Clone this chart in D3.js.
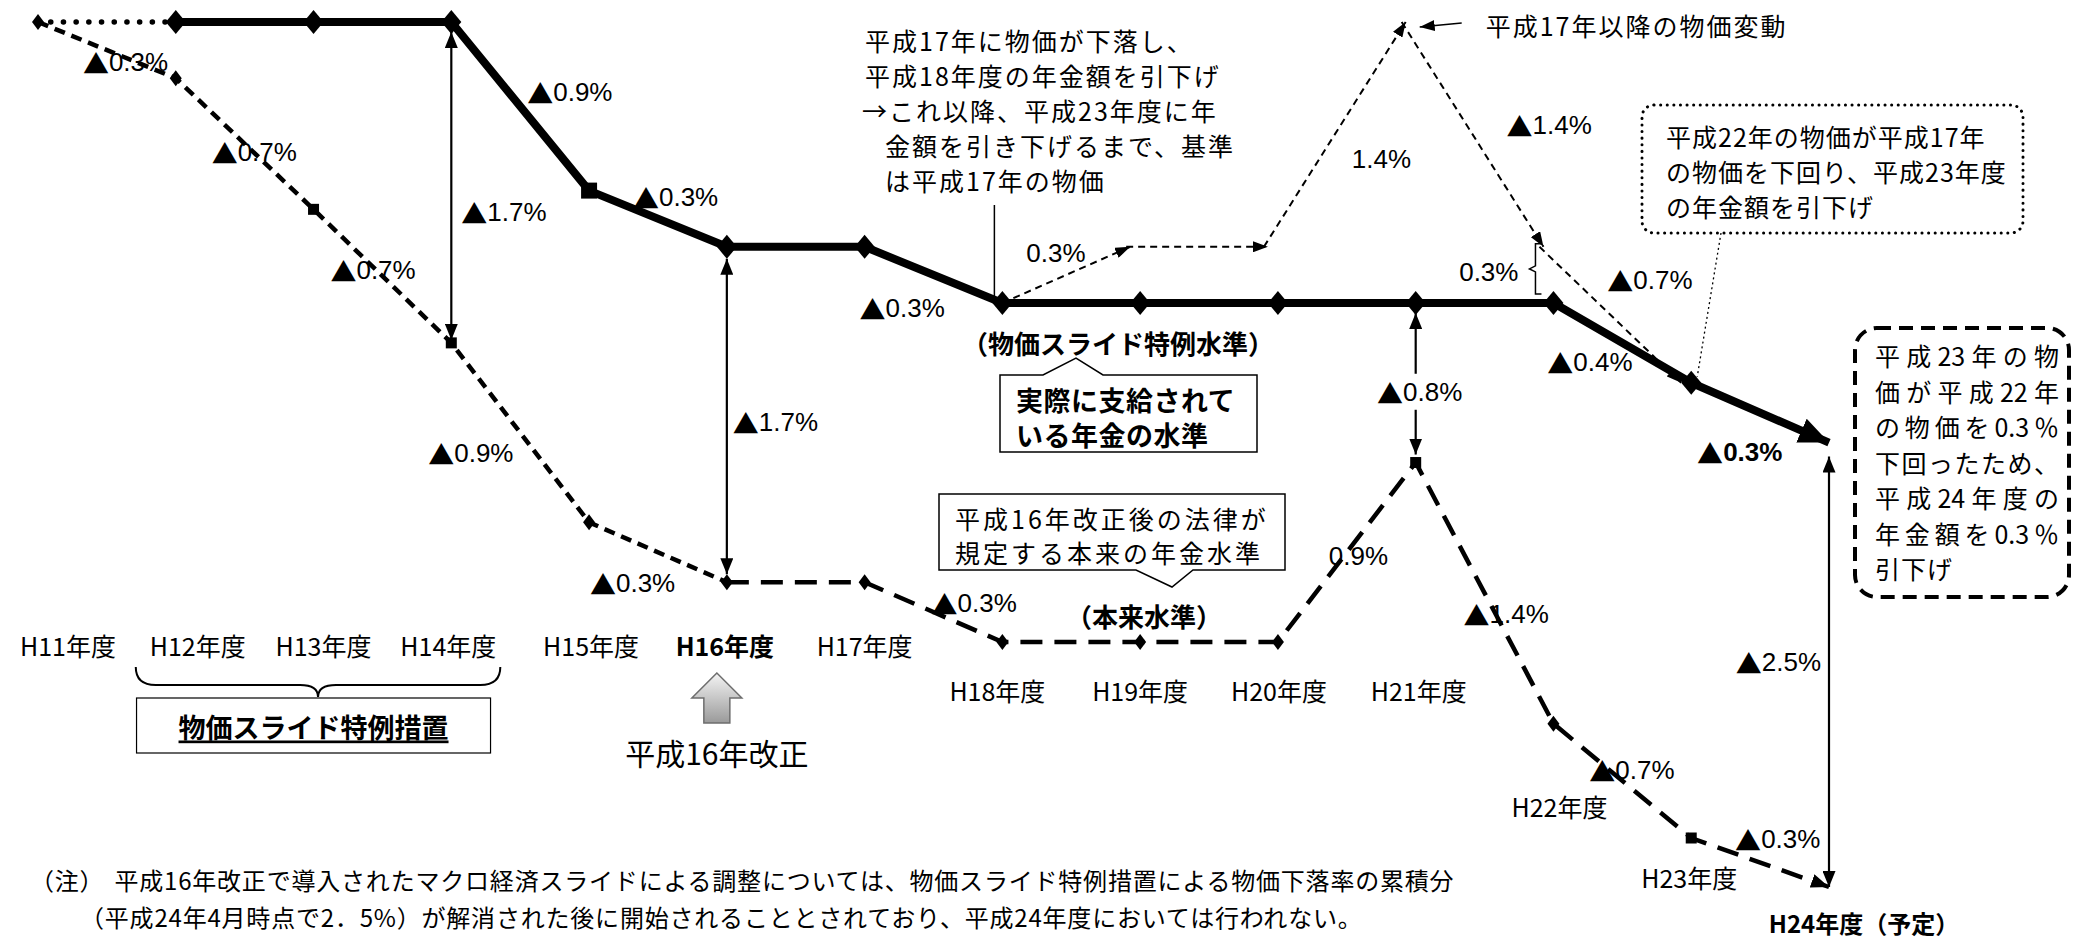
<!DOCTYPE html>
<html>
<head>
<meta charset="utf-8">
<script src="https://cdn.jsdelivr.net/npm/d3@7/dist/d3.min.js"></script>
<style>
  body { margin: 0; background: #fff; }
  svg text { font-family: "Noto Sans CJK JP", sans-serif; fill: #000; }
  svg text.num { font-family: "Liberation Sans", "Noto Sans CJK JP", sans-serif; }
  svg tspan.tri { font-family: "Noto Sans CJK JP", sans-serif; }
</style>
</head>
<body>
<script>
// fiscal years on the horizontal axis
var years = ["H11", "H12", "H13", "H14", "H15", "H16", "H17", "H18", "H19", "H20", "H21", "H22", "H23", "H24"];
var yearLabels = ["H11年度", "H12年度", "H13年度", "H14年度", "H15年度", "H16年度", "H17年度",
    "H18年度", "H19年度", "H20年度", "H21年度", "H22年度", "H23年度", "H24年度（予定）"];

// cumulative change (%) of the pension level, H11 = 0
var specialLevel = [0, 0, 0, 0, -0.9, -1.2, -1.2, -1.5, -1.5, -1.5, -1.5, -1.5, -1.9, -2.2];   // 物価スライド特例水準
var originalLevel = [0, -0.3, -1.0, -1.7, -2.6, -2.9, -2.9, -3.2, -3.2, -3.2, -2.3, -3.7, -4.4, -4.7]; // 本来水準

// price movement after H17 (as drawn) and the yearly changes written on it
var priceYears = ["H18", "H19", "H20", "H21", "H22", "H23"];
var priceLevel = [-1.5, -1.2, -1.2, 0.0, -1.2, -1.9];
var priceChange = [0.3, 0, 1.4, -1.4, -0.7];

// years where the gap between the two levels is shown
var gapYears = ["H14", "H16", "H21", "H24"];

var width = 2073,
    height = 940;

var x = d3.scalePoint().domain(years).range([38, 1829]);
// the original drawing is not quite to scale, so use a piecewise scale
var y = d3.scaleLinear().domain([0, -1.5, -3.2, -4.7]).range([22, 303, 642, 887]);

var svg = d3.select("body").append("svg")
    .attr("width", width)
    .attr("height", height);

var defs = svg.append("defs");

function addHead(id, w, h) {
    defs.append("marker")
        .attr("id", id)
        .attr("markerUnits", "userSpaceOnUse")
        .attr("markerWidth", w)
        .attr("markerHeight", h)
        .attr("refX", w)
        .attr("refY", h / 2)
        .attr("orient", "auto-start-reverse")
        .append("path")
        .attr("d", "M0,0L" + w + "," + (h / 2) + "L0," + h + "Z")
        .attr("fill", "#000");
}
addHead("headBig", 30, 26);
addHead("headMid", 16, 13);
addHead("headSmall", 15, 11);
addHead("headDash", 18, 14);

var grad = defs.append("linearGradient").attr("id", "grayArrow")
    .attr("x1", 0).attr("y1", 0).attr("x2", 0).attr("y2", 1);
grad.append("stop").attr("offset", "0%").attr("stop-color", "#f4f4f4");
grad.append("stop").attr("offset", "100%").attr("stop-color", "#9a9a9a");

var special = years.map(function(yr, i) {
    return { year: yr, v: specialLevel[i] };
});
var original = years.map(function(yr, i) {
    return { year: yr, v: originalLevel[i] };
});
var price = priceYears.map(function(yr, i) {
    return { year: yr, v: priceLevel[i] };
});

var line = d3.line()
    .x(function(d) { return x(d.year); })
    .y(function(d) { return y(d.v); });

// 本来水準 (dashed)
svg.append("path")
    .attr("d", line(original.slice(0, 6)))
    .attr("fill", "none")
    .attr("stroke", "#000")
    .attr("stroke-width", 4.5)
    .attr("stroke-dasharray", "11,7");
svg.append("path")
    .attr("d", line(original.slice(5)))
    .attr("fill", "none")
    .attr("stroke", "#000")
    .attr("stroke-width", 4.5)
    .attr("stroke-dasharray", "22,12")
    .attr("marker-end", "url(#headDash)");

// H11 -> H12 dotted
svg.append("path")
    .attr("d", line(special.slice(0, 2)))
    .attr("fill", "none")
    .attr("stroke", "#000")
    .attr("stroke-width", 5.5)
    .attr("stroke-linecap", "round")
    .attr("stroke-dasharray", "0.1,12.6");

// 物価スライド特例水準 (thick solid)
svg.append("path")
    .attr("d", line(special.slice(1)))
    .attr("fill", "none")
    .attr("stroke", "#000")
    .attr("stroke-width", 8)
    .attr("stroke-linejoin", "round")
    .attr("marker-end", "url(#headBig)");

var bigDiamond = "M0,-12L10,0L0,12L-10,0Z",
    bigSquare = "M-8,-8H8V8H-8Z",
    smallDiamond = "M0,-8L6,0L0,8L-6,0Z",
    smallSquare = "M-5.5,-5.5H5.5V5.5H-5.5Z";
var solidSquares = ["H15"],
    dashSquares = ["H13", "H14", "H21", "H23"];

svg.selectAll(".sm")
    .data(special.slice(1, 13))
    .enter().append("path")
    .attr("class", "sm")
    .attr("transform", function(d) { return "translate(" + x(d.year) + "," + y(d.v) + ")"; })
    .attr("d", function(d) { return solidSquares.indexOf(d.year) >= 0 ? bigSquare : bigDiamond; });

svg.selectAll(".dm")
    .data(original.slice(0, 13))
    .enter().append("path")
    .attr("class", "dm")
    .attr("transform", function(d) { return "translate(" + x(d.year) + "," + y(d.v) + ")"; })
    .attr("d", function(d) { return dashSquares.indexOf(d.year) >= 0 ? smallSquare : smallDiamond; });

// price movement arrows
for (var i = 0; i < price.length - 1; i++) {
    svg.append("line")
        .attr("x1", x(price[i].year) - (i ? 14 : 0)).attr("y1", y(price[i].v))
        .attr("x2", x(price[i + 1].year) - 10).attr("y2", y(price[i + 1].v))
        .attr("stroke", "#000")
        .attr("stroke-width", 2)
        .attr("stroke-dasharray", "7,5")
        .attr("marker-end", "url(#headSmall)");
}

function label(tx, ty, txt, opts) {
    opts = opts || {};
    var t = svg.append("text")
        .attr("x", tx)
        .attr("y", ty)
        .attr("dominant-baseline", "central")
        .attr("text-anchor", opts.anchor || "start")
        .style("font-size", (opts.size || 26) + "px");
    if (opts.num) t.attr("class", "num");
    if (opts.bold) t.style("font-weight", "bold");
    if (opts.ls) t.style("letter-spacing", opts.ls + "px");
    if (opts.num && txt.charAt(0) === "▲") {
        t.append("tspan").attr("class", "tri").text("▲");
        t.append("tspan").text(txt.slice(1));
    } else if (opts.fit) {
        justify(t, txt, opts.fit);
    } else {
        t.text(txt);
    }
    return t;
}

// spread full-width characters over a given width, keep number runs tight
function justify(t, txt, target) {
    var parts = txt.split(/([0-9.]+)/).filter(function(p) { return p; });
    var spans = parts.map(function(p) {
        return { s: t.append("tspan").text(p), digits: /^[0-9.]+$/.test(p), n: p.length };
    });
    var w = t.node().getComputedTextLength();
    var gaps = -1;
    spans.forEach(function(sp, k) {
        if (!sp.digits) gaps += sp.n;
        if (k > 0 && spans[k - 1].digits) gaps += 1;
    });
    var ls = gaps > 0 ? (target - w) / gaps : 0;
    spans.forEach(function(sp, k) {
        if (!sp.digits) sp.s.style("letter-spacing", ls + "px");
        if (k > 0 && spans[k - 1].digits) sp.s.attr("dx", ls);
    });
}

function pct(diff) {
    return (diff < 0 ? "▲" : "") + Math.abs(diff).toFixed(1) + "%";
}

function segLabel(series, seg, dx, dy, bold) {
    var a = series[seg],
        b = series[seg + 1];
    var mx = (x(a.year) + x(b.year)) / 2,
        my = (y(a.v) + y(b.v)) / 2;
    label(mx + dx, my + dy, pct(b.v - a.v), { num: true, bold: bold });
}

// changes along the solid line
segLabel(special, 3, 7, -14);
segLabel(special, 4, -25, -22);
segLabel(special, 6, -74, 33);
segLabel(special, 11, -75, 19);
segLabel(special, 12, -63, 39, true);

// changes along the dashed line
segLabel(original, 0, -24, 12);
segLabel(original, 1, -33, 8);
segLabel(original, 2, -52, -6);
segLabel(original, 3, -92, 20);
segLabel(original, 4, -68, 31);
segLabel(original, 6, -2, -9);
segLabel(original, 9, -18, 4);
segLabel(original, 10, -21, 21);
segLabel(original, 11, -33, -11);
segLabel(original, 12, -25, -24);

// changes along the price path
var priceOffsets = [[-45, -22], null, [5, 25], [22, -9], [-15, -35]];
priceChange.forEach(function(c, i) {
    if (!priceOffsets[i]) return;
    var mx = (x(price[i].year) + x(price[i + 1].year)) / 2,
        my = (y(price[i].v) + y(price[i + 1].v)) / 2;
    label(mx + priceOffsets[i][0], my + priceOffsets[i][1], pct(c), { num: true });
});

// gap arrows between the two levels
var gapLayout = {
    "H14": { top: 10, bot: 3, dx: 10, dy: 30, anchor: "start" },
    "H16": { top: 12, bot: 8, dx: 6, dy: 8, anchor: "start" },
    "H21": { top: 10, bot: 8, dx: 4, dy: 9, anchor: "middle", knock: true },
    "H24": { top: 14, bot: 0, dx: -8, dy: -3, anchor: "end" }
};
gapYears.forEach(function(yr) {
    var i = years.indexOf(yr),
        L = gapLayout[yr];
    var gx = x(yr),
        y1 = y(specialLevel[i]) + L.top,
        y2 = y(originalLevel[i]) - L.bot;
    svg.append("line")
        .attr("x1", gx).attr("y1", y1)
        .attr("x2", gx).attr("y2", y2)
        .attr("stroke", "#000")
        .attr("stroke-width", 2.2)
        .attr("marker-start", "url(#headMid)")
        .attr("marker-end", "url(#headMid)");
    var ly = (y(specialLevel[i]) + y(originalLevel[i])) / 2 + L.dy;
    if (L.knock) {
        svg.append("rect")
            .attr("x", gx - 48).attr("y", ly - 18)
            .attr("width", 96).attr("height", 36)
            .attr("fill", "#fff");
    }
    label(gx + L.dx, ly, pct(originalLevel[i] - specialLevel[i]), { num: true, anchor: L.anchor });
});

// bracket showing the 0.3% left over in H22
var bx = x("H22") - 18,
    bTop = y(priceLevel[4]) - 3,
    bBot = y(specialLevel[11]) - 9,
    bMid = (bTop + bBot) / 2;
svg.append("path")
    .attr("d", "M" + (bx + 6) + "," + bTop + "H" + bx + "V" + (bMid - 3) + "L" + (bx - 6) + "," + bMid +
        "L" + bx + "," + (bMid + 3) + "V" + bBot + "H" + (bx + 6))
    .attr("fill", "none")
    .attr("stroke", "#000")
    .attr("stroke-width", 1.5);
label(bx - 17, bMid + 3, pct(priceLevel[4] - specialLevel[11]), { num: true, anchor: "end" });

// year labels
var labelDx = [30, 22, 10, -3, 2, -2, 0, -5, 0, 1, 3, 6, -2, 35];
var labelY = [645, 645, 645, 645, 645, 645, 645, 690, 690, 690, 690, 806, 877, 922];
var boldYears = ["H16", "H24"];
years.forEach(function(yr, i) {
    label(x(yr) + labelDx[i], labelY[i], yearLabels[i], {
        anchor: "middle",
        size: yr === "H24" ? 24 : 25,
        bold: boldYears.indexOf(yr) >= 0
    });
});

// ---- annotations ----

// note about H17 price drop
var noteLines = ["平成17年に物価が下落し、", "平成18年度の年金額を引下げ", "→これ以降、平成23年度に年",
    "金額を引き下げるまで、基準", "は平成17年の物価"];
var noteX = [865, 865, 862, 885, 885];
noteLines.forEach(function(s, i) {
    label(noteX[i], 40 + i * 35, s, { size: 25, ls: 2 });
});
svg.append("line")
    .attr("x1", x("H18") - 8).attr("y1", 205)
    .attr("x2", x("H18") - 8).attr("y2", y(-1.5))
    .attr("stroke", "#000").attr("stroke-width", 1.5);

// 平成17年以降の物価変動
var peakX = x("H21"),
    peakY = y(priceLevel[3]);
svg.append("line")
    .attr("x1", peakX + 46).attr("y1", peakY + 1)
    .attr("x2", peakX + 4).attr("y2", peakY + 5)
    .attr("stroke", "#000").attr("stroke-width", 1.5)
    .attr("marker-end", "url(#headSmall)");
label(peakX + 70, peakY + 3, "平成17年以降の物価変動", { size: 25, ls: 2 });

// dotted rounded box
svg.append("rect")
    .attr("x", 1642).attr("y", 105)
    .attr("width", 381).attr("height", 128)
    .attr("rx", 12)
    .attr("fill", "none")
    .attr("stroke", "#000")
    .attr("stroke-width", 3)
    .attr("stroke-linecap", "round")
    .attr("stroke-dasharray", "0.1,6.5");
["平成22年の物価が平成17年", "の物価を下回り、平成23年度", "の年金額を引下げ"].forEach(function(s, i) {
    label(1666, 136 + i * 35, s, { size: 25, ls: 1 });
});
svg.append("line")
    .attr("x1", 1721).attr("y1", 233)
    .attr("x2", x("H23") + 6).attr("y2", y(specialLevel[12]) - 6)
    .attr("stroke", "#000").attr("stroke-width", 1.3)
    .attr("stroke-dasharray", "2,3");

// （物価スライド特例水準）
label(1118, 342, "（物価スライド特例水準）", { size: 26, bold: true, anchor: "middle" });

// callout: 実際に支給されている年金の水準
svg.append("path")
    .attr("d", "M1000,375H1043L1076,358L1103,375H1257V452H1000Z")
    .attr("fill", "#fff")
    .attr("stroke", "#000")
    .attr("stroke-width", 1.5);
label(1016, 399, "実際に支給されて", { size: 27, bold: true, ls: 0.5 });
label(1016, 434, "いる年金の水準", { size: 27, bold: true, ls: 0.5 });

// callout: 本来の年金水準
svg.append("path")
    .attr("d", "M939,494H1285V570H1193L1172,587L1136,570H939Z")
    .attr("fill", "#fff")
    .attr("stroke", "#000")
    .attr("stroke-width", 1.5);
label(955, 518, "平成16年改正後の法律が", { size: 25, ls: 3 });
label(955, 552, "規定する本来の年金水準", { size: 25, ls: 3 });
label(1144, 615, "（本来水準）", { size: 26, bold: true, anchor: "middle" });

// brace and 物価スライド特例措置
var b1 = x("H12") - 40,
    b2 = x("H14") + 49,
    bc = (b1 + b2) / 2;
svg.append("path")
    .attr("d", "M" + b1 + ",667Q" + b1 + ",685 " + (b1 + 20) + ",685L" + (bc - 18) + ",685Q" + bc + ",685 " + bc + ",697" +
        "Q" + bc + ",685 " + (bc + 18) + ",685L" + (b2 - 20) + ",685Q" + b2 + ",685 " + b2 + ",667")
    .attr("fill", "none")
    .attr("stroke", "#000")
    .attr("stroke-width", 2);
svg.append("rect")
    .attr("x", x("H13") - 177).attr("y", 698)
    .attr("width", 354).attr("height", 55)
    .attr("fill", "#fff")
    .attr("stroke", "#000")
    .attr("stroke-width", 1.2);
label(x("H13"), 726, "物価スライド特例措置", { size: 27, bold: true, anchor: "middle" })
    .style("text-decoration", "underline");

// 平成16年改正 block arrow
var ax = x("H16") - 10;
svg.append("path")
    .attr("d", "M" + ax + ",673L" + (ax + 25) + ",698H" + (ax + 13) + "V723H" + (ax - 13) + "V698H" + (ax - 25) + "Z")
    .attr("fill", "url(#grayArrow)")
    .attr("stroke", "#6e6e6e")
    .attr("stroke-width", 1.5);
label(ax, 752, "平成16年改正", { size: 30, anchor: "middle" });

// dashed rounded box (H24)
svg.append("rect")
    .attr("x", 1855).attr("y", 328)
    .attr("width", 214).attr("height", 269)
    .attr("rx", 22)
    .attr("fill", "none")
    .attr("stroke", "#000")
    .attr("stroke-width", 4)
    .attr("stroke-dasharray", "14,8");
["平成23年の物", "価が平成22年", "の物価を0.3％", "下回ったため、", "平成24年度の", "年金額を0.3％", "引下げ"]
.forEach(function(s, i) {
    if (i < 6) label(1875, 355 + i * 35.5, s, { size: 25, fit: 184 });
    else label(1875, 355 + i * 35.5, s, { size: 25, ls: 1 });
});

// footnote
var fn1 = label(30, 879, "（注）", { size: 24, ls: 0.8 });
fn1.append("tspan").attr("dx", 10)
    .text("平成16年改正で導入されたマクロ経済スライドによる調整については、物価スライド特例措置による物価下落率の累積分");
label(80, 916, "（平成24年4月時点で2．5%）が解消された後に開始されることとされており、平成24年度においては行われない。",
    { size: 24, ls: 0.8 });
</script>
</body>
</html>
